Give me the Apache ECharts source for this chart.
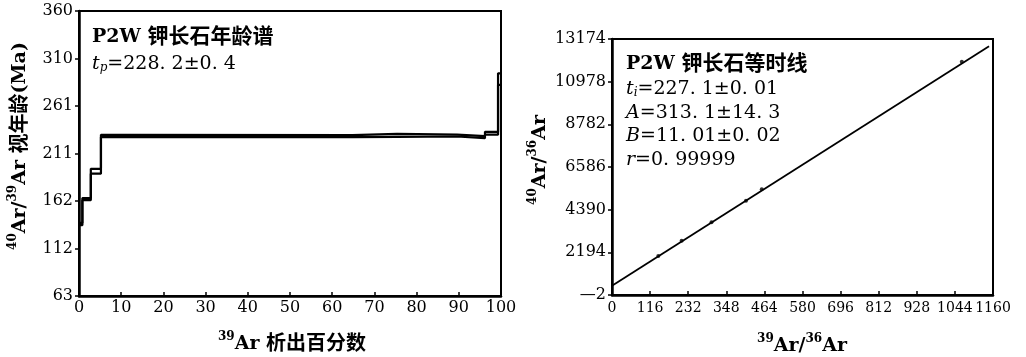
<!DOCTYPE html>
<html>
<head>
<meta charset="utf-8">
<script src="https://cdn.jsdelivr.net/npm/echarts@6/dist/echarts.min.js"></script>
<style>html,body{margin:0;padding:0;background:#fff}#chart{width:1026px;height:357px}</style>
</head>
<body>
<div id="chart"></div>
<script>
// 年龄谱：每个加热阶段的累计析出边界(%)、视年龄(Ma)、误差
const stepEdges = [0, 0.8, 2.8, 5.2, 10.5, 64.8, 75.4, 89.6, 96.2, 99.3, 100]
const stepAges = [138, 164, 193, 229.8, 229.6, 230.4, 230.2, 228.6, 232.6, 289]
const stepErrors = [1.2, 1.1, 2.5, 1.2, 1.0, 1.6, 1.0, 1.1, 1.5, 6]
const ageTicks = ['63', '112', '162', '211', '261', '310', '360']
const pctTicks = ['0', '10', '20', '30', '40', '50', '60', '70', '80', '90', '100']

// 等时线：测点与拟合线
const isoX = [141, 212, 303, 408, 456, 1065]
const isoY = [2007, 2793, 3740, 4853, 5440, 12006]
const fitX = [0, 1148]
const fitY = [480, 12800]
const isoYTicks = ['—2', '2194', '4390', '6586', '8782', '10978', '13174']
const isoXTicks = ['0', '116', '232', '348', '464', '580', '696', '812', '928', '1044', '1160']

const serif = 'DejaVu Serif'
const cjk = 'Noto Sans CJK SC'

/**
 * 富文本样式：拉丁字母、上下标、中文
 */
const mkRich = (t, c, s) => ({
  t: { fontFamily: serif, fontSize: t, fontWeight: 'bold', lineHeight: t + 4, verticalAlign: 'bottom', color: '#000' },
  sup: { fontFamily: serif, fontSize: s, fontWeight: 'bold', lineHeight: s, verticalAlign: 'top', color: '#000' },
  c: { fontFamily: cjk, fontSize: c, fontWeight: 'bold', lineHeight: t + 4, color: '#000' },
  n: { fontFamily: serif, fontSize: t, lineHeight: t + 4, verticalAlign: 'bottom', color: '#000' },
  i: { fontFamily: serif, fontSize: t, fontStyle: 'italic', lineHeight: t + 4, verticalAlign: 'bottom', color: '#000' },
  sub: { fontFamily: serif, fontSize: s, fontStyle: 'italic', lineHeight: s, verticalAlign: 'bottom', color: '#000' }
})
const noteRich = mkRich(19, 21, 12)
const nameRich = mkRich(19, 20, 12)

// 阶梯的上下边界线
const upper = []
const lower = []
stepAges.forEach((a, k) => {
  upper.push([stepEdges[k], a + stepErrors[k]], [stepEdges[k + 1], a + stepErrors[k]])
  lower.push([stepEdges[k], a - stepErrors[k]], [stepEdges[k + 1], a - stepErrors[k]])
})

const axisLabel = (list, margin, size) => ({
  color: '#000',
  fontFamily: serif,
  fontSize: size || 16,
  margin: margin,
  interval: 0,
  hideOverlap: false,
  showMinLabel: true,
  showMaxLabel: true,
  formatter: (v, idx) => list[idx]
})

const axisLine = { show: true, onZero: false, lineStyle: { color: '#000', width: 2.5 } }
const tickIn = { show: true, inside: true, length: 4, lineStyle: { color: '#000', width: 1.5 } }
const tickOut = { show: true, length: 4, lineStyle: { color: '#000', width: 1.5 } }

const text = (x, y, str, rich, extra) => Object.assign({
  type: 'text',
  x: x,
  y: y,
  style: { text: str, rich: rich, align: 'left', verticalAlign: 'middle' }
}, extra || {})

const myChart = echarts.init(document.getElementById('chart'))

const option = {
  backgroundColor: '#fff',
  animation: false,
  grid: [
    { left: 79, top: 11, width: 422, height: 285, show: true, borderColor: '#000', borderWidth: 2 },
    { left: 612, top: 39, width: 381, height: 256, show: true, borderColor: '#000', borderWidth: 2 }
  ],
  xAxis: [
    {
      gridIndex: 0, type: 'value', min: 0, max: 100, interval: 10,
      axisLine: axisLine, axisTick: tickIn,
      axisLabel: axisLabel(pctTicks, 4),
      splitLine: { show: false }
    },
    {
      gridIndex: 1, type: 'value', min: 0, max: 1160, interval: 116,
      axisLine: axisLine, axisTick: tickIn,
      axisLabel: axisLabel(isoXTicks, 6, 14),
      splitLine: { show: false }
    }
  ],
  yAxis: [
    {
      gridIndex: 0, type: 'value', min: 63, max: 360, interval: 49.5,
      axisLine: axisLine, axisTick: tickOut,
      axisLabel: axisLabel(ageTicks, 6),
      splitLine: { show: false }
    },
    {
      gridIndex: 1, type: 'value', min: -2, max: 13174, interval: 2196,
      axisLine: axisLine, axisTick: tickOut,
      axisLabel: axisLabel(isoYTicks, 6),
      splitLine: { show: false }
    }
  ],
  series: [
    {
      type: 'line', xAxisIndex: 0, yAxisIndex: 0, data: upper,
      symbol: 'none', lineStyle: { color: '#000', width: 2.2 }
    },
    {
      type: 'line', xAxisIndex: 0, yAxisIndex: 0, data: lower,
      symbol: 'none', lineStyle: { color: '#000', width: 2.2 }
    },
    {
      type: 'line', xAxisIndex: 1, yAxisIndex: 1,
      data: fitX.map((x, k) => [x, fitY[k]]),
      symbol: 'none', lineStyle: { color: '#000', width: 1.8 }
    },
    {
      type: 'scatter', xAxisIndex: 1, yAxisIndex: 1,
      data: isoX.map((x, k) => [x, isoY[k]]),
      symbol: 'circle', symbolSize: 4, itemStyle: { color: '#000' }
    }
  ],
  graphic: [
    text(92, 35, '{t|P2W }{c|钾长石年龄谱}', noteRich),
    text(92, 62, '{i|t}{sub|p}{n|=228. 2±0. 4}', noteRich),
    text(626, 62, '{t|P2W }{c|钾长石等时线}', noteRich),
    text(626, 87, '{i|t}{sub|i}{n|=227. 1±0. 01}', noteRich),
    text(626, 111, '{i|A}{n|=313. 1±14. 3}', noteRich),
    text(626, 134, '{i|B}{n|=11. 01±0. 02}', noteRich),
    text(626, 158, '{i|r}{n|=0. 99999}', noteRich),
    {
      type: 'text', x: 18, y: 146, rotation: Math.PI / 2,
      style: { text: '{sup|40}{t|Ar/}{sup|39}{t|Ar }{c|视年龄}{t|(Ma)}', rich: nameRich, align: 'center', verticalAlign: 'middle' }
    },
    {
      type: 'text', x: 292, y: 342,
      style: { text: '{sup|39}{t|Ar }{c|析出百分数}', rich: nameRich, align: 'center', verticalAlign: 'middle' }
    },
    {
      type: 'text', x: 538, y: 160, rotation: Math.PI / 2,
      style: { text: '{sup|40}{t|Ar/}{sup|36}{t|Ar}', rich: nameRich, align: 'center', verticalAlign: 'middle' }
    },
    {
      type: 'text', x: 802, y: 344,
      style: { text: '{sup|39}{t|Ar/}{sup|36}{t|Ar}', rich: nameRich, align: 'center', verticalAlign: 'middle' }
    }
  ]
}

option && myChart.setOption(option)
</script>
</body>
</html>
